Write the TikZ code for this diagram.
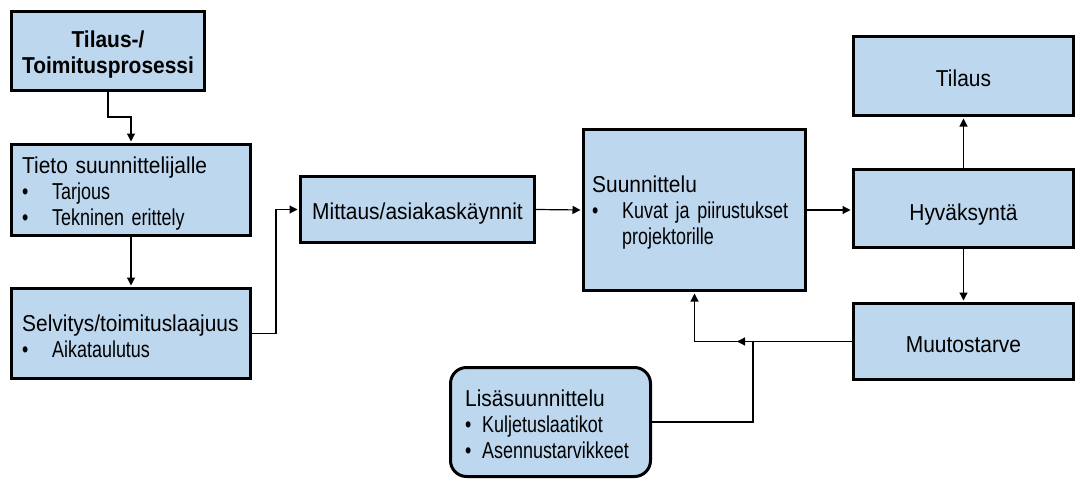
\documentclass[tikz,border=0pt]{standalone}
\usepackage{fontspec}
\setmainfont{Liberation Sans}[FakeStretch=0.91]
\newfontfamily\itemfont{Liberation Sans}[FakeStretch=0.78]
\usetikzlibrary{arrows.meta,calc}
\definecolor{boxblue}{HTML}{BDD7EE}
% bullet item: narrow face, fixed indent for the text
\newcommand\bitem[2][30pt]{{\itemfont\makebox[#1][l]{\textbullet}#2}}
% continuation line of a bullet item
\newcommand\bcont[2][30pt]{{\itemfont\hspace*{#1}#2}}

\begin{document}
\begin{tikzpicture}[x=1pt,y=-1pt,
  every node/.style={font=\fontsize{23}{26}\selectfont},
  box/.style={draw=black, line width=3pt, fill=boxblue, inner sep=0pt},
  lbl/.style={anchor=base west, inner sep=0pt, text width=300pt, align=left},
  ctr/.style={anchor=base, inner sep=0pt, text width=220pt, align=center},
  link/.style={line width=1.2pt, shorten >=1.5pt, -{Triangle[length=8pt,width=8pt]}}
]
\useasboundingbox (0,0) rectangle (1076,479);

% boxes
\node[box, minimum width=193pt, minimum height=79pt] (proc) at (108,51) {};
\node[box, minimum width=239pt, minimum height=91pt] (info) at (131,190) {};
\node[box, minimum width=239pt, minimum height=90pt] (scope) at (131,333.5) {};
\node[box, minimum width=234pt, minimum height=66pt] (visit) at (417.5,209.5) {};
\node[box, minimum width=222pt, minimum height=161pt] (design) at (694.5,210) {};
\node[box, rounded corners=16pt, minimum width=200pt, minimum height=109pt] (extra) at (550.5,422) {};
\node[box, minimum width=220pt, minimum height=79pt] (order) at (963.5,76) {};
\node[box, minimum width=220pt, minimum height=78pt] (accept) at (963.5,208.5) {};
\node[box, minimum width=220pt, minimum height=76pt] (change) at (963.5,341.5) {};

% box texts
\node[ctr, font=\fontsize{23}{26}\selectfont\bfseries] (procT) at (108,47) {Tilaus-/\\Toimitusprosessi};
\node[lbl] (infoT) at (22,173) {Tieto suunnittelijalle\\\bitem{Tarjous}\\\bitem{Tekninen erittely}};
\node[lbl] (scopeT) at (22,331) {Selvitys/toimituslaajuus\\\bitem{Aikataulutus}};
\node[ctr] (visitT) at (417.5,219) {Mittaus/asiakaskäynnit};
\node[lbl] (designT) at (592,192) {Suunnittelu\\\bitem{Kuvat ja piirustukset}\\\bcont{projektorille}};
\node[lbl] (extraT) at (465,406) {Lisäsuunnittelu\\\bitem[17pt]{Kuljetuslaatikot}\\\bitem[17pt]{Asennustarvikkeet}};
\node[ctr] (orderT) at (963.5,86) {Tilaus};
\node[ctr] (acceptT) at (963.5,220) {Hyväksyntä};
\node[ctr] (changeT) at (963.5,352) {Muutostarve};

% connectors
\draw[link] (proc.south) -- ++(0,25) -| (info.north);
\draw[link] (info.south) -- (scope.north);
\draw[link] (scope.east) -- ++(24,0) |- (visit.west);
\draw[link] (visit.east) -- (design.west);
\draw[link] (design.east) -- (design.east -| accept.west);
\draw[link] (accept.north) -- (order.south);
\draw[link] (accept.south) -- (change.north);
\draw[link] (change.west) -| (design.south);
\coordinate (joint) at (753,341.5);
\coordinate (tip) at (737,341.5);
\draw[link, shorten >=0pt] (extra.east) -| (joint) -- (tip);
\end{tikzpicture}
\end{document}
